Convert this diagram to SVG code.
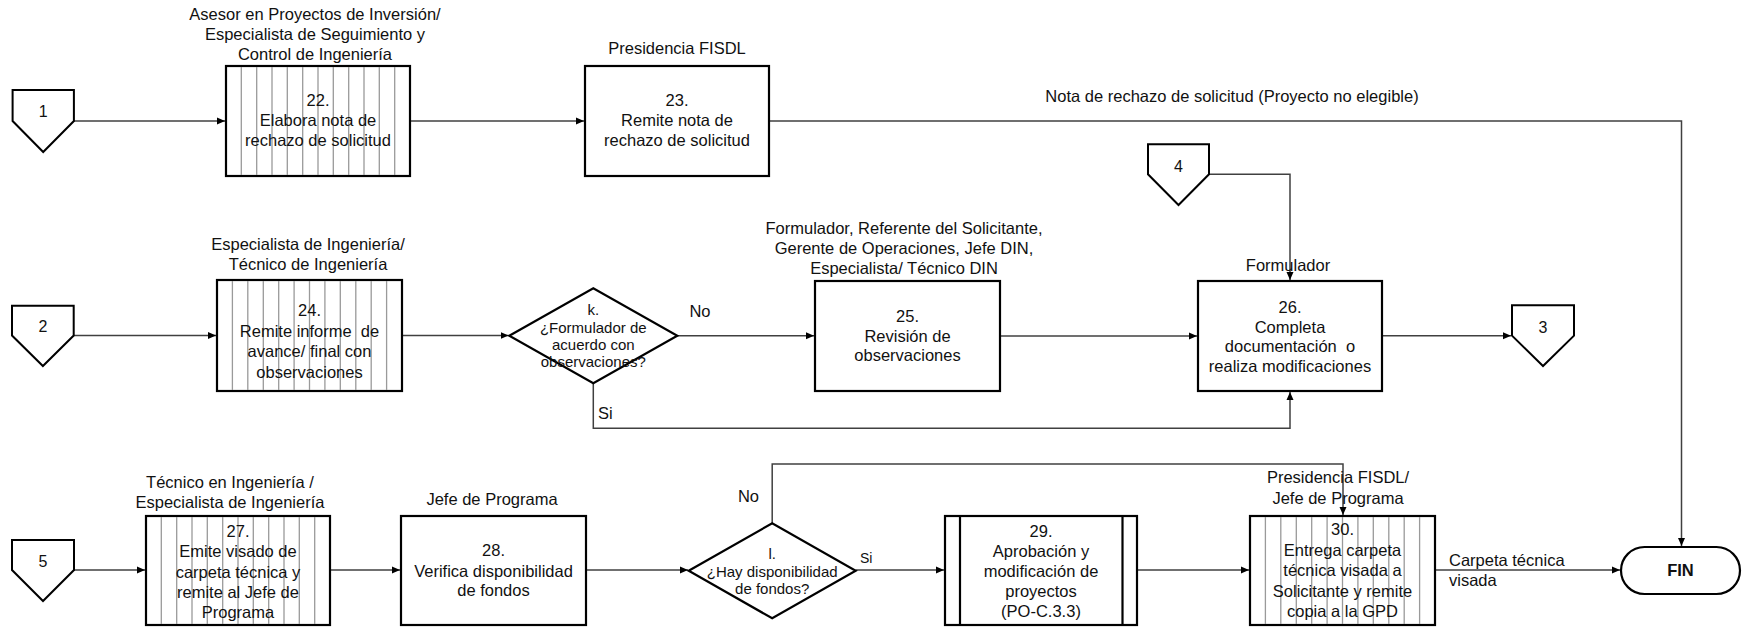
<svg xmlns="http://www.w3.org/2000/svg" width="1748" height="629" viewBox="0 0 1748 629">
<defs>
<style>
.box{fill:#fff;stroke:#000;stroke-width:2.2}
.stripe{stroke:#9a9a9a;stroke-width:1.3}
.conn{fill:none;stroke:#404040;stroke-width:1.5}
.off{fill:#fff;stroke:#000;stroke-width:2}
text{font-family:"Liberation Sans",Arial,sans-serif;font-size:16.5px;fill:#111}
.c{text-anchor:middle}
.d{font-size:15px}
.n{font-size:16px}
.b{font-weight:bold}
</style>
<marker id="ah" markerUnits="userSpaceOnUse" markerWidth="10" markerHeight="8" refX="8" refY="4" orient="auto">
<path d="M0,0.5 L8,4 L0,7.5 z" fill="#000"/>
</marker>
</defs>
<rect width="1748" height="629" fill="#fff"/>

<g id="connectors">
<path class="conn" d="M74,121 H225" marker-end="url(#ah)"/>
<path class="conn" d="M410,121 H584" marker-end="url(#ah)"/>
<path class="conn" d="M769,121 H1681.5 V546" marker-end="url(#ah)"/>
<path class="conn" d="M74,335.5 H216" marker-end="url(#ah)"/>
<path class="conn" d="M402,335.5 H508.5" marker-end="url(#ah)"/>
<path class="conn" d="M676.7,335.7 H814" marker-end="url(#ah)"/>
<path class="conn" d="M1000,336 H1197" marker-end="url(#ah)"/>
<path class="conn" d="M1209,174.3 H1290 V280" marker-end="url(#ah)"/>
<path class="conn" d="M1382,335.7 H1511" marker-end="url(#ah)"/>
<path class="conn" d="M593.3,383.3 V428.3 H1290 V392" marker-end="url(#ah)"/>
<path class="conn" d="M74,570 H145" marker-end="url(#ah)"/>
<path class="conn" d="M330,570 H400" marker-end="url(#ah)"/>
<path class="conn" d="M586,570 H688" marker-end="url(#ah)"/>
<path class="conn" d="M855.6,570 H944" marker-end="url(#ah)"/>
<path class="conn" d="M772.2,523.3 V464 H1343 V515" marker-end="url(#ah)"/>
<path class="conn" d="M1137,570 H1249" marker-end="url(#ah)"/>
<path class="conn" d="M1435,570 H1620" marker-end="url(#ah)"/>
<text x="1232" y="102" class="c">Nota de rechazo de solicitud (Proyecto no elegible)</text>
<text x="700" y="317" class="c">No</text>
<text x="598" y="419">Si</text>
<text x="748.5" y="502" class="c">No</text>
<text x="860" y="563" style="font-size:14px">Si</text>
<text x="1449" y="566">Carpeta técnica</text>
<text x="1449" y="586">visada</text>
</g>

<g id="off1">
<path class="off" d="M12.6,90 H73.9 V121 L43.2,152 L12.6,121 Z"/>
<text x="43.2" y="117" class="c n">1</text>
</g>
<g id="off2">
<path class="off" d="M12,305.7 H73.7 V335.5 L42.9,366 L12,335.5 Z"/>
<text x="42.9" y="332" class="c n">2</text>
</g>
<g id="off3">
<path class="off" d="M1512,305.3 H1574 V335.7 L1543,366 L1512,335.7 Z"/>
<text x="1543" y="332.5" class="c n">3</text>
</g>
<g id="off4">
<path class="off" d="M1148,144.3 H1209 V174.3 L1178.5,205 L1148,174.3 Z"/>
<text x="1178.5" y="172" class="c n">4</text>
</g>
<g id="off5">
<path class="off" d="M12,540 H74 V570 L43,601 L12,570 Z"/>
<text x="43" y="567" class="c n">5</text>
</g>

<g id="n22">
<text x="315" y="19.5" class="c">Asesor en Proyectos de Inversión/</text>
<text x="315" y="39.5" class="c">Especialista de Seguimiento y</text>
<text x="315" y="59.5" class="c">Control de Ingeniería</text>
<rect class="box" x="226" y="66" width="184" height="110"/>
<path class="stripe" d="M241.3,67V175M256.7,67V175M272,67V175M287.3,67V175M302.7,67V175M318,67V175M333.3,67V175M348.7,67V175M364,67V175M379.3,67V175M394.7,67V175"/>
<text x="318" y="106" class="c">22.</text>
<text x="318" y="126" class="c">Elabora nota de</text>
<text x="318" y="146" class="c">rechazo de solicitud</text>
</g>

<g id="n23">
<text x="677" y="54" class="c">Presidencia FISDL</text>
<rect class="box" x="585" y="66" width="184" height="110"/>
<text x="677" y="106" class="c">23.</text>
<text x="677" y="126" class="c">Remite nota de</text>
<text x="677" y="146" class="c">rechazo de solicitud</text>
</g>

<g id="n24">
<text x="308" y="250" class="c">Especialista de Ingeniería/</text>
<text x="308" y="270" class="c">Técnico de Ingeniería</text>
<rect class="box" x="217" y="280" width="185" height="111"/>
<path class="stripe" d="M232.4,281V390M247.8,281V390M263.3,281V390M278.7,281V390M294.1,281V390M309.5,281V390M324.9,281V390M340.3,281V390M355.8,281V390M371.2,281V390M386.6,281V390"/>
<text x="309.5" y="316" class="c">24.</text>
<text x="309.5" y="336.5" class="c" xml:space="preserve">Remite informe  de</text>
<text x="309.5" y="357" class="c">avance/ final con</text>
<text x="309.5" y="377.5" class="c">observaciones</text>
</g>

<g id="nk">
<path class="box" d="M509.3,335.7 L593.3,288.2 L677.3,335.7 L593.3,383.2 Z"/>
<text x="593.3" y="315" class="c d">k.</text>
<text x="593.3" y="332.5" class="c d">¿Formulador de</text>
<text x="593.3" y="350" class="c d">acuerdo con</text>
<text x="593.3" y="367" class="c d">observaciones?</text>
</g>

<g id="n25">
<text x="904" y="234" class="c">Formulador, Referente del Solicitante,</text>
<text x="904" y="254" class="c">Gerente de Operaciones, Jefe DIN,</text>
<text x="904" y="274" class="c">Especialista/ Técnico DIN</text>
<rect class="box" x="815" y="281" width="185" height="110"/>
<text x="907.5" y="321.5" class="c">25.</text>
<text x="907.5" y="341.5" class="c">Revisión de</text>
<text x="907.5" y="361" class="c">observaciones</text>
</g>

<g id="n26">
<text x="1288" y="271" class="c">Formulador</text>
<rect class="box" x="1198" y="281" width="184" height="110"/>
<text x="1290" y="313" class="c">26.</text>
<text x="1290" y="332.5" class="c">Completa</text>
<text x="1290" y="352" class="c" xml:space="preserve">documentación  o</text>
<text x="1290" y="372" class="c">realiza modificaciones</text>
</g>

<g id="n27">
<text x="230" y="487.5" class="c">Técnico en Ingeniería /</text>
<text x="230" y="507.5" class="c">Especialista de Ingeniería</text>
<rect class="box" x="146" y="516" width="184" height="109"/>
<path class="stripe" d="M161.3,517V624M176.7,517V624M192,517V624M207.3,517V624M222.7,517V624M238,517V624M253.3,517V624M268.7,517V624M284,517V624M299.3,517V624M314.7,517V624"/>
<text x="238" y="537" class="c">27.</text>
<text x="238" y="557" class="c">Emite visado de</text>
<text x="238" y="577.5" class="c">carpeta técnica y</text>
<text x="238" y="598" class="c">remite al Jefe de</text>
<text x="238" y="618" class="c">Programa</text>
</g>

<g id="n28">
<text x="492" y="505" class="c">Jefe de Programa</text>
<rect class="box" x="401" y="516" width="185" height="109"/>
<text x="493.5" y="556" class="c">28.</text>
<text x="493.5" y="576.5" class="c">Verifica disponibilidad</text>
<text x="493.5" y="596" class="c">de fondos</text>
</g>

<g id="nl">
<path class="box" d="M688.7,570.8 L772.2,523.3 L855.7,570.8 L772.2,618.3 Z"/>
<text x="772.2" y="559" class="c d">l.</text>
<text x="772.2" y="576.5" class="c d">¿Hay disponibilidad</text>
<text x="772.2" y="594" class="c d">de fondos?</text>
</g>

<g id="n29">
<rect class="box" x="945" y="516" width="192" height="109"/>
<path class="box" d="M960,516V625M1122.5,516V625"/>
<text x="1041" y="537" class="c">29.</text>
<text x="1041" y="557" class="c">Aprobación y</text>
<text x="1041" y="577" class="c">modificación de</text>
<text x="1041" y="597" class="c">proyectos</text>
<text x="1041" y="617" class="c">(PO-C.3.3)</text>
</g>

<g id="n30">
<text x="1338" y="483" class="c">Presidencia FISDL/</text>
<text x="1338" y="503.5" class="c">Jefe de Programa</text>
<rect class="box" x="1250" y="516" width="185" height="109"/>
<path class="stripe" d="M1265.4,517V624M1280.8,517V624M1296.3,517V624M1311.7,517V624M1327.1,517V624M1342.5,517V624M1357.9,517V624M1373.3,517V624M1388.8,517V624M1404.2,517V624M1419.6,517V624"/>
<text x="1342.5" y="535" class="c">30.</text>
<text x="1342.5" y="555.5" class="c">Entrega carpeta</text>
<text x="1342.5" y="576" class="c">técnica visada a</text>
<text x="1342.5" y="596.5" class="c">Solicitante y remite</text>
<text x="1342.5" y="617" class="c">copia a la GPD</text>
</g>

<g id="fin">
<rect class="box" x="1621" y="547" width="119" height="47" rx="23.5" ry="23.5"/>
<text x="1680.5" y="576" class="c b">FIN</text>
</g>
</svg>
